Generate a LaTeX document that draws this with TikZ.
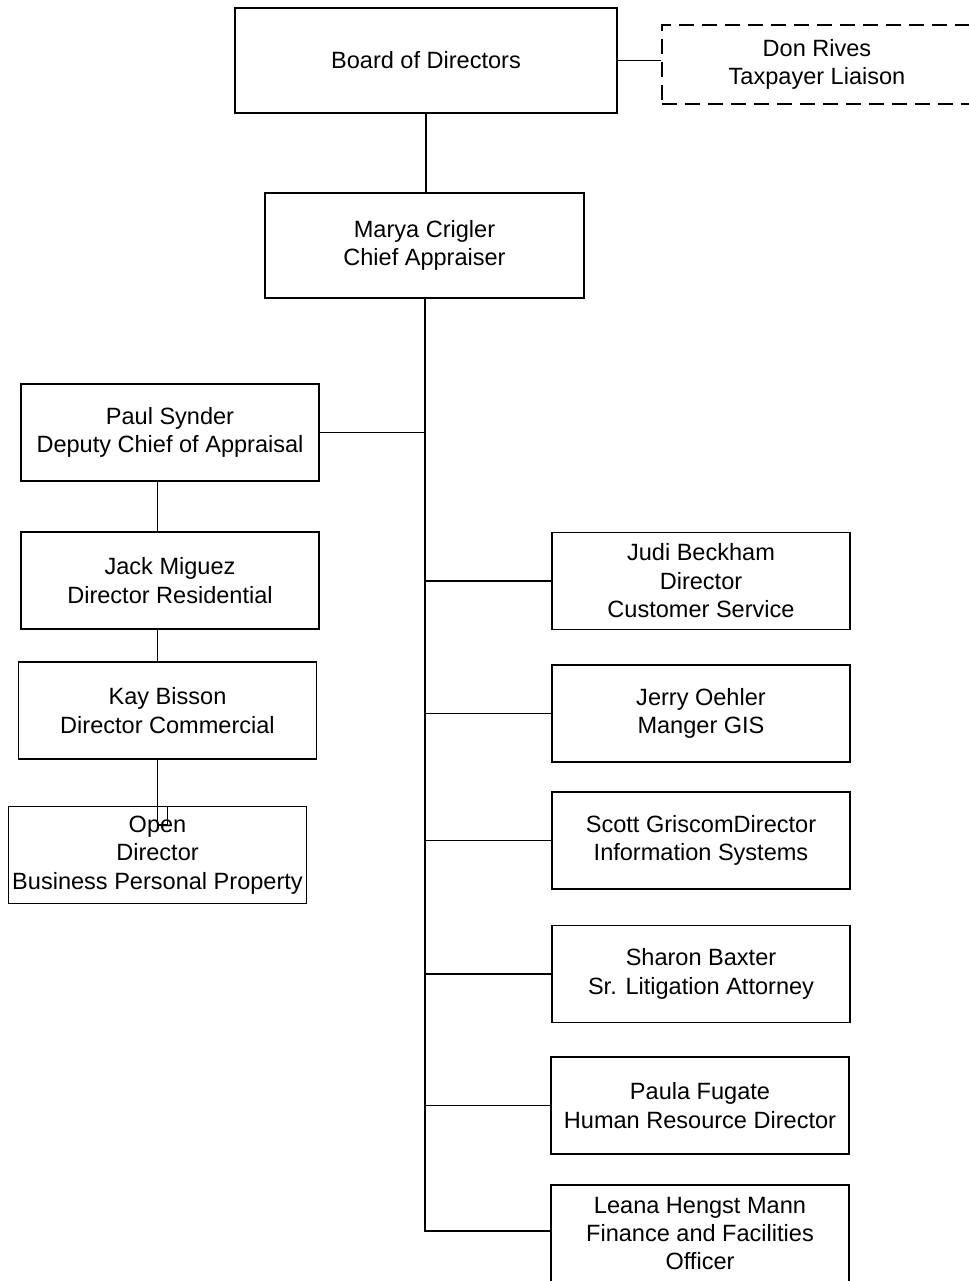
\documentclass[tikz,border=0pt]{standalone}
\usepackage{fontspec}
\setmainfont{Liberation Sans}
\tikzset{
  unit/.style={draw, line width=1.1pt, inner sep=0pt, align=center,
    minimum width=5.96cm, minimum height=1.94cm},
  link/.style={line width=1.1pt}
}
\begin{document}
\begin{tikzpicture}[x=0.02cm, y=-0.02cm, font=\fontsize{13.4}{16.2}\selectfont]
   \useasboundingbox (0,0) rectangle (968,1281);
   % top of the chart
   \node[unit, minimum width=7.64cm, minimum height=2.1cm] (B) at (426,60.5) {Board of Directors};
   \node[unit, dash pattern=on 0.3cm off 0.16cm, minimum width=6.2cm, minimum height=1.58cm] (D) at (817,64.5) {Don Rives\\Taxpayer Liaison};
   \node[unit, minimum width=6.38cm, minimum height=2.1cm] (C) at (424.5,245.5) {Marya Crigler\\Chief Appraiser};
   % left column
   \node[unit] (P) at (170,432.5) {Paul Synder\\Deputy Chief of Appraisal};
   \node[unit] (J) at (170,580.5) {Jack Miguez\\Director Residential};
   \node[unit] (K) at (167.5,710.5) {Kay Bisson\\Director Commercial};
   \node[unit] (O) at (157.5,855) {Open\\Director\\Business Personal Property};
   % right column
   \node[unit] (R1) at (701,581) {Judi Beckham\\Director\\Customer Service};
   \node[unit] (R2) at (701,713.5) {Jerry Oehler\\Manger GIS};
   \node[unit] (R3) at (701,840.5) {Scott GriscomDirector\\Information Systems};
   \node[unit] (R4) at (701,974) {Sharon Baxter\\Sr. Litigation Attorney};
   \node[unit] (R5) at (700,1105.5) {Paula Fugate\\Human Resource Director};
   \node[unit] (R6) at (700,1233.5) {Leana Hengst Mann\\Finance and Facilities\\Officer};
   \coordinate (end) at (425,1231);
   \coordinate (kink) at (157.5,825);
   % lines
   \draw[link] (B.east) -- (B.east -| D.west);
   \draw[link] (B.south) -- (B.south |- C.north);
   \draw[link] (C.south -| end) -- (end) -- (end -| R6.west);
   \draw[link] (P.east) -- (P.east -| end);
   \foreach \r in {R1,R2,R3,R4,R5}
      \draw[link] (\r.west) -- (\r.west -| end);
   \draw[link] (P.south -| O.north) -- (J.north -| O.north);
   \draw[link] (J.south -| O.north) -- (K.north -| O.north);
   \draw[link] (K.south -| O.north) -- (kink) -- (kink -| K.south) -- (O.north -| K.south);
\end{tikzpicture}
\end{document}
